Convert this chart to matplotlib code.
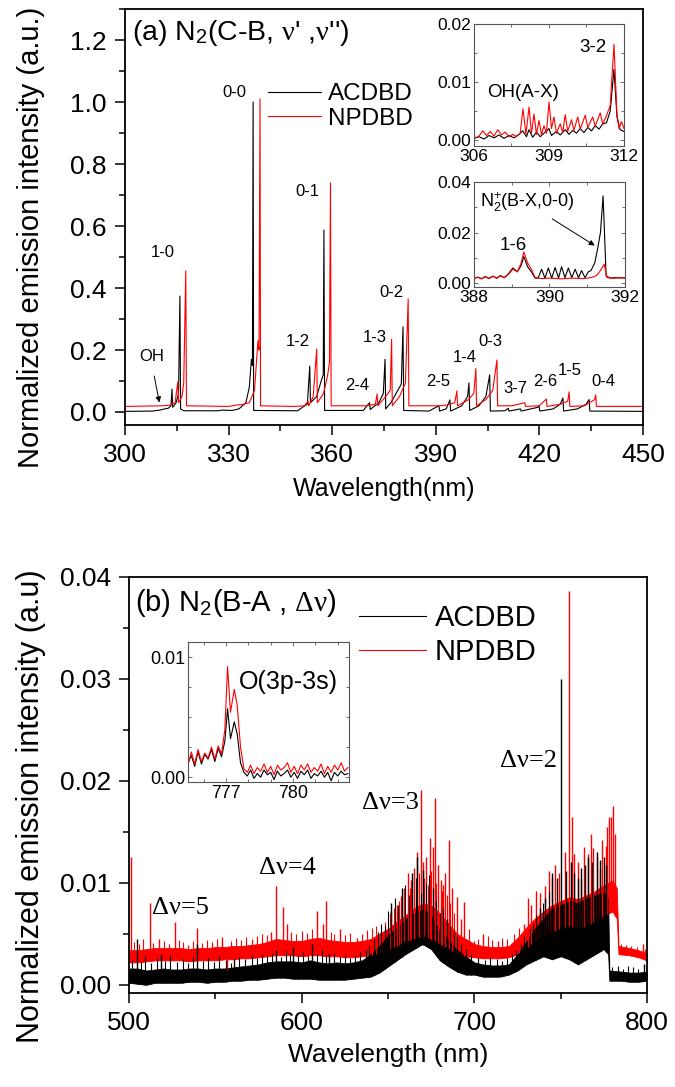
import numpy as np
import matplotlib
matplotlib.use("Agg")
import matplotlib.pyplot as plt
from matplotlib.ticker import MultipleLocator

plt.rcParams['font.family'] = ['Liberation Sans', 'DejaVu Sans']
plt.rcParams['mathtext.fontset'] = 'custom'
plt.rcParams['mathtext.rm'] = 'Liberation Serif'
plt.rcParams['mathtext.sf'] = 'Liberation Sans'
plt.rcParams['mathtext.it'] = 'Liberation Serif:italic'

# ---- (a) N2(C-B) spectra, traced vertices ----
a_acdbd_wl = [300, 308, 310, 311.5, 312.5, 313.3, 313.6, 313.8, 314.8, 315.5, 315.9, 316.1, 317, 327, 328, 331,
              333, 335, 336, 336.6, 336.9, 337.1, 337.25, 350, 352, 352.8, 353.5, 353.7, 355.5, 356.8, 357.4,
              357.6, 357.8, 369, 370.8, 371.0, 373.5, 374.8, 375.3, 375.5, 377, 378.5, 380.0, 380.5, 380.7,
              388, 390.9, 391.1, 393, 394.1, 394.3, 397.5, 399.2, 399.6, 399.8, 402.5, 404.5, 405.6, 405.8,
              410, 411, 411.2, 414.5, 414.7, 419.5, 419.9, 420.1, 424, 426, 426.8, 427.0, 431, 433.5, 434.4,
              434.6, 450]
a_acdbd = [0.002, 0.003, 0.006, 0.010, 0.012, 0.020, 0.074, 0.015, 0.030, 0.060, 0.374, 0.010, 0.004, 0.004, 0.006,
           0.005, 0.010, 0.030, 0.080, 0.170, 0.150, 1.000, 0.005, 0.004, 0.020, 0.025, 0.148, 0.030, 0.050,
           0.100, 0.120, 0.587, 0.005, 0.005, 0.030, 0.008, 0.030, 0.060, 0.170, 0.010, 0.030, 0.060, 0.090,
           0.275, 0.005, 0.003, 0.020, 0.003, 0.010, 0.039, 0.003, 0.020, 0.050, 0.094, 0.005, 0.020, 0.050,
           0.120, 0.003, 0.004, 0.012, 0.003, 0.010, 0.003, 0.015, 0.020, 0.003, 0.010, 0.025, 0.045, 0.003,
           0.010, 0.025, 0.040, 0.003, 0.002]
a_npdbd_wl = [300, 311, 313, 314.5, 315.3, 315.5, 316.5, 317.0, 317.6, 317.8, 330, 332, 334, 336, 337.5, 338.5,
              338.8, 339.1, 339.25, 349, 352, 353.0, 353.2, 354.5, 355.5, 355.7, 357.5, 358.7, 359.2, 359.5,
              359.7, 370, 372.5, 373.0, 373.2, 375.5, 376.8, 377.2, 377.4, 379.5, 381.2, 382.0, 382.2, 391,
              393, 395.5, 396.1, 396.3, 399.5, 401.0, 401.6, 401.8, 404.5, 406.5, 407.7, 407.9, 412, 415.8,
              416.0, 420, 422.0, 422.2, 426, 428.2, 428.6, 428.8, 433, 436.0, 436.3, 436.5, 450]
a_npdbd = [0.018, 0.020, 0.022, 0.030, 0.097, 0.030, 0.050, 0.094, 0.455, 0.020, 0.018, 0.022, 0.024, 0.030,
           0.070, 0.230, 0.200, 1.010, 0.020, 0.018, 0.020, 0.035, 0.020, 0.050, 0.203, 0.030, 0.060, 0.120,
           0.160, 0.739, 0.020, 0.020, 0.025, 0.058, 0.020, 0.050, 0.070, 0.235, 0.020, 0.050, 0.094, 0.365,
           0.020, 0.020, 0.022, 0.030, 0.068, 0.020, 0.040, 0.060, 0.140, 0.020, 0.040, 0.070, 0.168, 0.020,
           0.020, 0.030, 0.018, 0.020, 0.042, 0.018, 0.025, 0.035, 0.065, 0.018, 0.020, 0.040, 0.055, 0.018,
           0.018]

band_labels = ['1-0', '0-0', '0-1', '1-2', '2-4', '1-3', '0-2', '2-5', '1-4', '0-3', '3-7', '2-6', '1-5', '0-4']
band_lab_x = [311.0, 331.7, 352.8, 350.0, 367.2, 372.3, 377.2, 390.8, 398.3, 405.7, 412.9, 421.6, 428.9, 438.5]
band_lab_y = [0.515, 1.03, 0.71, 0.226, 0.084, 0.24, 0.384, 0.097, 0.177, 0.226, 0.077, 0.097, 0.135, 0.097]

# ---- inset OH(A-X) ----
oh_acdbd_wl = [306.0, 306.2, 306.4, 306.6, 306.8, 307.0, 307.2, 307.4, 307.6, 307.8, 307.95, 308.1, 308.2, 308.35,
               308.5, 308.65, 308.8, 309.0, 309.1, 309.3, 309.45, 309.65, 309.8, 309.95, 310.1, 310.25, 310.4,
               310.55, 310.7, 310.85, 311.0, 311.15, 311.3, 311.45, 311.6, 311.72, 311.85, 312.0]
oh_acdbd = [0.0003, 0.0006, 0.0002, 0.0008, 0.0004, 0.0009, 0.0003, 0.0008, 0.0004, 0.0010, 0.0016, 0.0006,
            0.0018, 0.0005, 0.0014, 0.0006, 0.0012, 0.0020, 0.0008, 0.0015, 0.0009, 0.0018, 0.0010, 0.0017,
            0.0012, 0.0020, 0.0013, 0.0022, 0.0016, 0.0025, 0.0019, 0.0028, 0.0030, 0.0050, 0.0122, 0.0040,
            0.0018, 0.0015]
oh_npdbd_wl = [306.0, 306.2, 306.35, 306.5, 306.65, 306.8, 306.95, 307.1, 307.25, 307.4, 307.55, 307.7, 307.85,
               307.96, 308.08, 308.2, 308.3, 308.4, 308.5, 308.6, 308.7, 308.8, 308.9, 309.0, 309.1, 309.2,
               309.3, 309.45, 309.55, 309.65, 309.75, 309.9, 310.0, 310.15, 310.25, 310.45, 310.55, 310.75,
               310.85, 311.05, 311.15, 311.3, 311.45, 311.6, 311.72, 311.8, 311.9, 312.0]
oh_npdbd = [0.0003, 0.0007, 0.0016, 0.0008, 0.0015, 0.0007, 0.0018, 0.0009, 0.0014, 0.0006, 0.0010, 0.0006,
            0.0012, 0.0054, 0.0010, 0.0057, 0.0012, 0.0045, 0.0010, 0.0034, 0.0009, 0.0025, 0.0012, 0.0066,
            0.0020, 0.0040, 0.0012, 0.0028, 0.0013, 0.0044, 0.0015, 0.0035, 0.0017, 0.0040, 0.0019, 0.0043,
            0.0022, 0.0040, 0.0024, 0.0047, 0.0028, 0.0042, 0.0060, 0.0165, 0.0045, 0.0020, 0.0032, 0.0020]

# ---- inset N2+(B-X) ----
n2p_acdbd_wl = [388.0, 388.1, 388.2, 388.3, 388.4, 388.5, 388.6, 388.7, 388.8, 388.9, 389.03, 389.15, 389.25,
                389.32, 389.42, 389.52, 389.62, 389.7, 389.79, 389.88, 389.97, 390.06, 390.15, 390.24, 390.32,
                390.41, 390.5, 390.59, 390.68, 390.77, 390.85, 390.94, 391.03, 391.1, 391.2, 391.28, 391.35,
                391.42, 391.5, 391.6, 391.8, 392.0]
n2p_acdbd = [0.0020, 0.0024, 0.0018, 0.0026, 0.0019, 0.0028, 0.0020, 0.0030, 0.0022, 0.0035, 0.0060, 0.0045,
             0.0070, 0.0105, 0.0065, 0.0045, 0.0020, 0.0020, 0.0055, 0.0020, 0.0060, 0.0020, 0.0062, 0.0020,
             0.0065, 0.0022, 0.0060, 0.0022, 0.0055, 0.0022, 0.0050, 0.0022, 0.0045, 0.0050, 0.0080, 0.0140,
             0.0200, 0.0345, 0.0030, 0.0020, 0.0022, 0.0020]
n2p_npdbd_wl = [388.0, 388.1, 388.2, 388.3, 388.4, 388.5, 388.6, 388.7, 388.8, 388.9, 389.03, 389.15, 389.25,
                389.32, 389.42, 389.52, 389.62, 389.8, 390.0, 390.3, 390.6, 390.9, 391.1, 391.25, 391.35,
                391.45, 391.52, 391.7, 392.0]
n2p_npdbd = [0.0018, 0.0023, 0.0017, 0.0025, 0.0018, 0.0027, 0.0019, 0.0029, 0.0021, 0.0033, 0.0055, 0.0045,
             0.0080, 0.0123, 0.0080, 0.0055, 0.0022, 0.0018, 0.0020, 0.0017, 0.0020, 0.0018, 0.0022, 0.0030,
             0.0050, 0.0075, 0.0022, 0.0020, 0.0022]

# ---- (b) N2(B-A): noise envelopes + lines ----
b_acdbd_wl = [500, 505, 510, 515, 520, 525, 530, 535, 540, 545, 550, 555, 560, 565, 570, 575, 580, 585, 590, 595,
              600, 605, 610, 615, 620, 625, 630, 635, 640, 645, 650, 655, 660, 665, 670, 675, 680, 685, 690, 695,
              700, 705, 710, 715, 720, 725, 730, 735, 740, 745, 750, 755, 760, 765, 770, 775, 777.5, 778.2, 785,
              790, 795, 800]
b_acdbd_lo = [0.0002, 0.0001, 0.0000, 0.0002, 0.0002, 0.0002, 0.0002, 0.0003, 0.0003, 0.0002, 0.0003, 0.0003,
              0.0004, 0.0004, 0.0005, 0.0005, 0.0006, 0.0007, 0.0007, 0.0006, 0.0006, 0.0006, 0.0005, 0.0005,
              0.0005, 0.0005, 0.0006, 0.0007, 0.0008, 0.0012, 0.0018, 0.0024, 0.0030, 0.0035, 0.0040, 0.0035,
              0.0024, 0.0018, 0.0013, 0.0010, 0.0010, 0.0008, 0.0008, 0.0008, 0.0010, 0.0014, 0.0020, 0.0024,
              0.0028, 0.0025, 0.0028, 0.0025, 0.0020, 0.0025, 0.0030, 0.0035, 0.0030, 0.0004, 0.0004, 0.0003,
              0.0003, 0.0004]
b_acdbd_hi = [0.0016, 0.0016, 0.0014, 0.0015, 0.0016, 0.0015, 0.0015, 0.0016, 0.0016, 0.0015, 0.0016, 0.0016,
              0.0017, 0.0018, 0.0019, 0.0020, 0.0022, 0.0023, 0.0023, 0.0023, 0.0022, 0.0024, 0.0022, 0.0021,
              0.0022, 0.0021, 0.0022, 0.0024, 0.0030, 0.0038, 0.0048, 0.0056, 0.0064, 0.0070, 0.0074, 0.0068,
              0.0052, 0.0044, 0.0034, 0.0028, 0.0022, 0.0020, 0.0019, 0.0019, 0.0020, 0.0030, 0.0042, 0.0055,
              0.0065, 0.0075, 0.0078, 0.0082, 0.0080, 0.0085, 0.0088, 0.0090, 0.0085, 0.0014, 0.0013, 0.0012,
              0.0012, 0.0013]
b_npdbd_wl = [500, 505, 510, 515, 520, 525, 530, 535, 540, 545, 550, 555, 560, 565, 570, 575, 580, 585, 590, 595,
              600, 605, 610, 615, 620, 625, 630, 635, 640, 645, 650, 655, 660, 665, 670, 675, 680, 685, 690, 695,
              700, 705, 710, 715, 720, 725, 730, 735, 740, 745, 750, 755, 760, 765, 770, 775, 780, 782.5, 783.5,
              790, 795, 800]
b_npdbd_lo = [0.0022, 0.0022, 0.0023, 0.0024, 0.0024, 0.0024, 0.0024, 0.0023, 0.0024, 0.0024, 0.0024, 0.0025,
              0.0025, 0.0026, 0.0026, 0.0027, 0.0028, 0.0029, 0.0029, 0.0029, 0.0028, 0.0029, 0.0029, 0.0028,
              0.0028, 0.0027, 0.0027, 0.0028, 0.0029, 0.0031, 0.0034, 0.0038, 0.0042, 0.0045, 0.0048, 0.0045,
              0.0040, 0.0035, 0.0030, 0.0028, 0.0027, 0.0026, 0.0026, 0.0026, 0.0027, 0.0030, 0.0036, 0.0042,
              0.0048, 0.0052, 0.0055, 0.0058, 0.0055, 0.0058, 0.0062, 0.0068, 0.0072, 0.0065, 0.0030, 0.0029,
              0.0027, 0.0024]
b_npdbd_hi = [0.0034, 0.0034, 0.0035, 0.0036, 0.0036, 0.0036, 0.0036, 0.0035, 0.0036, 0.0036, 0.0037, 0.0037,
              0.0038, 0.0038, 0.0039, 0.0040, 0.0042, 0.0045, 0.0044, 0.0043, 0.0043, 0.0045, 0.0046, 0.0044,
              0.0043, 0.0042, 0.0042, 0.0043, 0.0045, 0.0050, 0.0055, 0.0062, 0.0068, 0.0075, 0.0080, 0.0078,
              0.0070, 0.0060, 0.0050, 0.0045, 0.0040, 0.0038, 0.0037, 0.0037, 0.0038, 0.0046, 0.0056, 0.0065,
              0.0072, 0.0078, 0.0082, 0.0086, 0.0084, 0.0088, 0.0092, 0.0098, 0.0102, 0.0095, 0.0038, 0.0036,
              0.0034, 0.0031]

# strong lines
b_npdbd_spk_wl = [501, 512, 517.5, 526.6, 539.4, 554, 582, 585.3, 589, 591.6, 609, 612.6, 614.3, 622, 632, 646,
                  652, 655, 657.8, 659.5, 661.3, 663.6, 665, 667, 669, 670.5, 672, 674.6, 676, 677.4, 679,
                  680.5, 682, 683, 685.2, 687, 690, 692, 694, 700, 705, 713.6, 729, 731, 733, 735.5, 738, 741,
                  743, 745, 747, 749, 752.5, 754.8, 756.5, 758, 760, 761.7, 763.5, 765.8, 767.5, 769, 771,
                  772.7, 774, 776, 777, 778, 779, 780.3, 781.5, 797.5]
b_npdbd_spk = [0.0125, 0.0080, 0.0045, 0.0062, 0.0056, 0.0047, 0.0052, 0.0097, 0.0076, 0.0060, 0.0072, 0.0060,
               0.0082, 0.0055, 0.0046, 0.0053, 0.0072, 0.0078, 0.0087, 0.0095, 0.0110, 0.0103, 0.0115, 0.0130,
               0.0191, 0.0120, 0.0125, 0.0144, 0.0135, 0.0183, 0.0118, 0.0103, 0.0098, 0.0110, 0.0142, 0.0095,
               0.0086, 0.0065, 0.0081, 0.0043, 0.0050, 0.0043, 0.0060, 0.0085, 0.0078, 0.0092, 0.0090, 0.0097,
               0.0112, 0.0105, 0.0118, 0.0110, 0.0130, 0.0386, 0.0165, 0.0128, 0.0120, 0.0105, 0.0135, 0.0128,
               0.0148, 0.0134, 0.0125, 0.0114, 0.0142, 0.0136, 0.0155, 0.0165, 0.0165, 0.0175, 0.0148, 0.0040]
# weak lines / noise peaks
b_npdbd_wk_wl = [503, 506, 508, 514, 520, 523, 529, 531, 534, 537, 542, 545, 548, 551, 559, 562, 565, 568, 571,
                 574, 577, 580, 594, 597, 600, 603, 606, 617, 619, 625, 628, 635, 638, 641, 643,
                 648, 651, 653.5, 656.5, 662.5, 666, 668, 671, 673, 675, 678, 681, 684, 686, 688.5,
                 697, 702, 708, 710, 716, 719, 723, 726, 785, 788, 791, 794, 799]
b_npdbd_wk = [0.0042, 0.0040, 0.0045, 0.0041, 0.0043, 0.0040, 0.0044, 0.0042, 0.0039, 0.0043, 0.0041, 0.0044,
              0.0042, 0.0045, 0.0043, 0.0046, 0.0044, 0.0047, 0.0045, 0.0048, 0.0050, 0.0049, 0.0052, 0.0050,
              0.0053, 0.0051, 0.0055, 0.0052, 0.0050, 0.0049, 0.0051, 0.0050, 0.0054, 0.0056, 0.0058,
              0.0062, 0.0070, 0.0075, 0.0082, 0.0095, 0.0100, 0.0110, 0.0105, 0.0098, 0.0112, 0.0100, 0.0092,
              0.0088, 0.0080, 0.0070, 0.0055, 0.0045, 0.0048, 0.0044, 0.0046, 0.0045, 0.0050, 0.0056, 0.0040,
              0.0039, 0.0038, 0.0037, 0.0035]
b_npdbd_dip_wl = [557]
b_npdbd_dip = [0.0015]

b_acdbd_spk_wl = [504.5, 518.4, 539.6, 561, 585, 595, 606, 616, 652, 658, 664, 667, 670.5, 676, 684, 738, 741,
                  745, 748, 750.2, 753, 756, 758, 760, 762, 764, 766, 768, 771, 773, 775, 776.5, 798]
b_acdbd_spk = [0.0045, 0.0030, 0.0040, 0.0025, 0.0034, 0.0037, 0.0040, 0.0030, 0.0080, 0.0095, 0.0110, 0.0125,
               0.0113, 0.0095, 0.0065, 0.0075, 0.0085, 0.0110, 0.0105, 0.0300, 0.0112, 0.0120, 0.0110, 0.0105,
               0.0115, 0.0118, 0.0125, 0.0120, 0.0130, 0.0122, 0.0125, 0.0118, 0.0020]
b_acdbd_wk_wl = [502, 507, 509.5, 513, 516, 521, 523.5, 528, 531, 534, 537, 543, 546, 549, 552, 556, 559, 564,
                 567, 571, 574, 577, 580, 583, 588, 591, 593, 598, 601, 603.5, 609, 612, 614, 619, 622, 625, 628,
                 631, 634, 637, 639,
                 642, 644, 646, 648, 650, 654, 656, 660, 662, 666, 669, 672, 674, 678, 680, 682, 686, 688, 690,
                 692, 695, 698,
                 702, 706, 709, 713, 716, 719, 722, 724, 727, 729, 732, 734, 736, 740, 743,
                 780, 783, 786, 789, 792, 795]
b_acdbd_wk = [0.0024, 0.0022, 0.0028, 0.0021, 0.0026, 0.0023, 0.0029, 0.0022, 0.0025, 0.0021, 0.0027, 0.0023,
              0.0026, 0.0022, 0.0028, 0.0024, 0.0021, 0.0027, 0.0025, 0.0029, 0.0026, 0.0030, 0.0028, 0.0031,
              0.0027, 0.0033, 0.0030, 0.0029, 0.0032, 0.0028, 0.0030, 0.0034, 0.0029, 0.0031, 0.0027, 0.0030,
              0.0026, 0.0029, 0.0032, 0.0035, 0.0038,
              0.0045, 0.0052, 0.0060, 0.0058, 0.0072, 0.0085, 0.0078, 0.0098, 0.0088, 0.0105, 0.0090, 0.0100,
              0.0108, 0.0082, 0.0070, 0.0075, 0.0058, 0.0052, 0.0048, 0.0040, 0.0035, 0.0030,
              0.0026, 0.0024, 0.0027, 0.0025, 0.0023, 0.0026, 0.0030, 0.0034, 0.0040, 0.0048, 0.0055, 0.0060,
              0.0068, 0.0080, 0.0092,
              0.0017, 0.0018, 0.0016, 0.0018, 0.0017, 0.0016]

dv_labels = ['Δν=5', 'Δν=4', 'Δν=3', 'Δν=2']
dv_x = [529.9, 591.7, 651.5, 731.6]
dv_y = [0.0075, 0.0115, 0.0178, 0.022]

# ---- inset O(3p-3s) ----
o_wl = [775.3, 775.45, 775.6, 775.75, 775.9, 776.05, 776.2, 776.35, 776.5, 776.65, 776.8, 776.95, 777.07, 777.2,
        777.37, 777.5, 777.65, 777.8, 777.95, 778.1, 778.25, 778.4, 778.55, 778.7, 778.85, 779.0, 779.15, 779.3,
        779.45, 779.6, 779.75, 779.9, 780.05, 780.2, 780.35, 780.5, 780.65, 780.8, 780.95, 781.1, 781.25, 781.4,
        781.55, 781.7, 781.85, 782.0, 782.15, 782.3, 782.45]
o_acdbd = [0.0012, 0.0018, 0.0009, 0.0021, 0.0011, 0.0019, 0.0015, 0.0023, 0.0013, 0.0024, 0.0017, 0.0030,
           0.0057, 0.0032, 0.0046, 0.0036, 0.0012,
           0.0004, 0.0001, 0.0006, -0.0001, 0.0003, 0.0000, 0.0006, 0.0002, 0.0004, -0.0002, 0.0005, 0.0001,
           0.0003, 0.0006, 0.0000, 0.0004, -0.0001, 0.0005, 0.0002, 0.0006, -0.0001, 0.0003, 0.0001, 0.0005,
           0.0000, 0.0004, -0.0003, 0.0004, 0.0001, 0.0005, 0.0002, 0.0003]
o_npdbd = [0.0010, 0.0021, 0.0011, 0.0023, 0.0013, 0.0020, 0.0016, 0.0025, 0.0015, 0.0026, 0.0019, 0.0040,
           0.0092, 0.0054, 0.0073, 0.0060, 0.0025,
           0.0007, 0.0004, 0.0010, 0.0003, 0.0008, 0.0005, 0.0011, 0.0004, 0.0009, 0.0002, 0.0010, 0.0006,
           0.0008, 0.0012, 0.0004, 0.0009, 0.0003, 0.0010, 0.0006, 0.0011, 0.0004, 0.0008, 0.0005, 0.0011,
           0.0003, 0.0009, 0.0004, 0.0010, 0.0006, 0.0012, 0.0005, 0.0008]

RED = '#ff0000'
TICK = 19


def style_main(ax):
    ax.tick_params(which='both', direction='out', top=False, right=False, labelsize=TICK, width=1.1)
    ax.tick_params(which='major', length=7, pad=6)
    ax.tick_params(which='minor', length=4)
    for s in ax.spines.values():
        s.set_linewidth(1.3)


def style_inset(ax, size):
    ax.tick_params(which='both', direction='in', top=True, right=True, labelsize=size, width=0.6,
                   colors='#555555', labelcolor='k', pad=2)
    ax.tick_params(which='major', length=3)
    ax.tick_params(which='minor', length=2)
    for s in ax.spines.values():
        s.set_linewidth(0.8)
        s.set_color('#555555')


fig = plt.figure(figsize=(6.75, 10.87), dpi=100)

# ================= panel (a) =================
ax1 = fig.add_axes([0.1852, 0.6090, 0.7674, 0.3827])
ax1.plot(a_acdbd_wl, a_acdbd, color='k', lw=0.8, label='ACDBD')
ax1.plot(a_npdbd_wl, a_npdbd, color=RED, lw=0.8, label='NPDBD')
ax1.set_xlim(300, 450)
ax1.set_ylim(-0.042, 1.3)
ax1.xaxis.set_major_locator(MultipleLocator(30))
ax1.xaxis.set_minor_locator(MultipleLocator(15))
ax1.yaxis.set_major_locator(MultipleLocator(0.2))
ax1.yaxis.set_minor_locator(MultipleLocator(0.1))
ax1.yaxis.set_major_formatter(plt.FuncFormatter(lambda v, p: f"{v:.1f}"))
style_main(ax1)
ax1.set_xlabel('Wavelength(nm)', fontsize=18)
ax1.set_ylabel('Normalized emission intensity (a.u.)', fontsize=21)
ax1.xaxis.set_label_coords(0.5, -0.125)
ax1.yaxis.set_label_coords(-0.155, 0.45)
ax1.text(0.0135, 0.942, r"(a) N$_\mathsf{2}$(C-B, $\mathrm{\nu}$' ,$\mathrm{\nu}$'')", transform=ax1.transAxes,
         fontsize=20.5, va='center', ha='left')
for lab, x, y in zip(band_labels, band_lab_x, band_lab_y):
    ax1.text(x, y, lab, fontsize=12, ha='center', va='center')
ax1.text(307.6, 0.18, 'OH', fontsize=12, ha='center', va='center')
ax1.annotate('', xy=(310.1, 0.022), xytext=(308.3, 0.125),
             arrowprops=dict(arrowstyle='-|>', color='k', lw=0.7, mutation_scale=8))
ax1.legend(loc='upper left', bbox_to_anchor=(0.276, 0.822), frameon=False, fontsize=17.5,
           handlelength=2.2, handletextpad=0.25, labelspacing=0.1, borderpad=0, borderaxespad=0)

# inset OH(A-X)
ins1 = fig.add_axes([0.7022, 0.8657, 0.2222, 0.1122])
ins1.plot(oh_acdbd_wl, oh_acdbd, color='k', lw=0.8)
ins1.plot(oh_npdbd_wl, oh_npdbd, color=RED, lw=0.8)
ins1.set_xlim(306, 312)
ins1.set_ylim(-0.001, 0.02)
ins1.set_xticks([306, 309, 312])
ins1.xaxis.set_minor_locator(MultipleLocator(1.5))
ins1.set_yticks([0.0, 0.01, 0.02])
ins1.yaxis.set_minor_locator(MultipleLocator(0.005))
ins1.yaxis.set_major_formatter(plt.FuncFormatter(lambda v, p: f"{v:.2f}"))
style_inset(ins1, 12.5)
ins1.text(307.96, 0.0082, 'OH(A-X)', fontsize=13.5, ha='center', va='center')
ins1.text(310.74, 0.016, '3-2', fontsize=13.5, ha='center', va='center')

# inset N2+(B-X)
ins2 = fig.add_axes([0.7022, 0.7360, 0.2237, 0.0966])
ins2.plot(n2p_acdbd_wl, n2p_acdbd, color='k', lw=0.8)
ins2.plot(n2p_npdbd_wl, n2p_npdbd, color=RED, lw=0.8)
ins2.set_xlim(388, 392)
ins2.set_ylim(-0.0015, 0.04)
ins2.set_xticks([388, 390, 392])
ins2.xaxis.set_minor_locator(MultipleLocator(1))
ins2.set_yticks([0.0, 0.02, 0.04])
ins2.yaxis.set_minor_locator(MultipleLocator(0.01))
ins2.yaxis.set_major_formatter(plt.FuncFormatter(lambda v, p: f"{v:.2f}"))
style_inset(ins2, 12.5)
ins2.text(388.16, 0.0317, r"N$_\mathsf{2}^\mathsf{+}$(B-X,0-0)", fontsize=13, ha='left', va='center')
ins2.text(389.05, 0.015, '1-6', fontsize=13.5, ha='center', va='center')
ins2.annotate('', xy=(391.26, 0.0143), xytext=(390.01, 0.026),
              arrowprops=dict(arrowstyle='-|>', color='k', lw=0.7, mutation_scale=8))

# ================= panel (b) =================
ax2 = fig.add_axes([0.1911, 0.0865, 0.7674, 0.3827])
ax2.fill_between(b_npdbd_wl, b_npdbd_lo, b_npdbd_hi, color=RED, lw=0.6)
ax2.vlines(b_npdbd_wk_wl, np.interp(b_npdbd_wk_wl, b_npdbd_wl, b_npdbd_lo), b_npdbd_wk, color=RED, lw=0.8)
ax2.vlines(b_npdbd_spk_wl, np.interp(b_npdbd_spk_wl, b_npdbd_wl, b_npdbd_lo), b_npdbd_spk, color=RED, lw=1.0)
ax2.vlines(b_npdbd_dip_wl, b_npdbd_dip, np.interp(b_npdbd_dip_wl, b_npdbd_wl, b_npdbd_lo), color=RED, lw=1.0)
ax2.fill_between(b_acdbd_wl, b_acdbd_lo, b_acdbd_hi, color='k', lw=0.6)
ax2.vlines(b_acdbd_wk_wl, np.interp(b_acdbd_wk_wl, b_acdbd_wl, b_acdbd_lo), b_acdbd_wk, color='k', lw=0.8)
ax2.vlines(b_acdbd_spk_wl, np.interp(b_acdbd_spk_wl, b_acdbd_wl, b_acdbd_lo), b_acdbd_spk, color='k', lw=1.0)
ax2.plot([], [], color='k', lw=0.8, label='ACDBD')
ax2.plot([], [], color=RED, lw=0.8, label='NPDBD')
ax2.set_xlim(500, 800)
ax2.set_ylim(-0.0008, 0.04)
ax2.xaxis.set_major_locator(MultipleLocator(100))
ax2.xaxis.set_minor_locator(MultipleLocator(50))
ax2.yaxis.set_major_locator(MultipleLocator(0.01))
ax2.yaxis.set_minor_locator(MultipleLocator(0.005))
ax2.yaxis.set_major_formatter(plt.FuncFormatter(lambda v, p: f"{v:.2f}"))
style_main(ax2)
ax2.set_xlabel('Wavelength (nm)', fontsize=19)
ax2.set_ylabel('Normalized emission intensity (a.u)', fontsize=22)
ax2.xaxis.set_label_coords(0.5, -0.12)
ax2.yaxis.set_label_coords(-0.16, 0.45)
ax2.text(0.012, 0.9375, r"(b) N$_\mathsf{2}$(B-A , $\mathrm{\Delta\nu}$)", transform=ax2.transAxes,
         fontsize=21, va='center', ha='left')
for lab, x, y in zip(dv_labels, dv_x, dv_y):
    ax2.text(x, y, lab, fontsize=19, ha='center', va='center', family=['Liberation Serif', 'DejaVu Serif'])
ax2.legend(loc='upper left', bbox_to_anchor=(0.444, 0.935), frameon=False, fontsize=21,
           handlelength=2.3, handletextpad=0.3, labelspacing=0.2, borderpad=0, borderaxespad=0)

# inset O(3p-3s)
ins3 = fig.add_axes([0.2785, 0.2806, 0.2385, 0.1288])
ins3.plot(o_wl, o_acdbd, color='k', lw=0.8)
ins3.plot(o_wl, o_npdbd, color=RED, lw=0.8)
ins3.set_xlim(775.3, 782.5)
ins3.set_ylim(-0.0004, 0.01125)
ins3.set_xticks([777, 780])
ins3.xaxis.set_minor_locator(MultipleLocator(1))
ins3.set_yticks([0.0, 0.01])
ins3.yaxis.set_minor_locator(MultipleLocator(0.0025))
ins3.yaxis.set_major_formatter(plt.FuncFormatter(lambda v, p: f"{v:.2f}"))
style_inset(ins3, 13)
ins3.text(779.8, 0.0079, 'O(3p-3s)', fontsize=18, ha='center', va='center')

fig.savefig('out.png', dpi=100)
